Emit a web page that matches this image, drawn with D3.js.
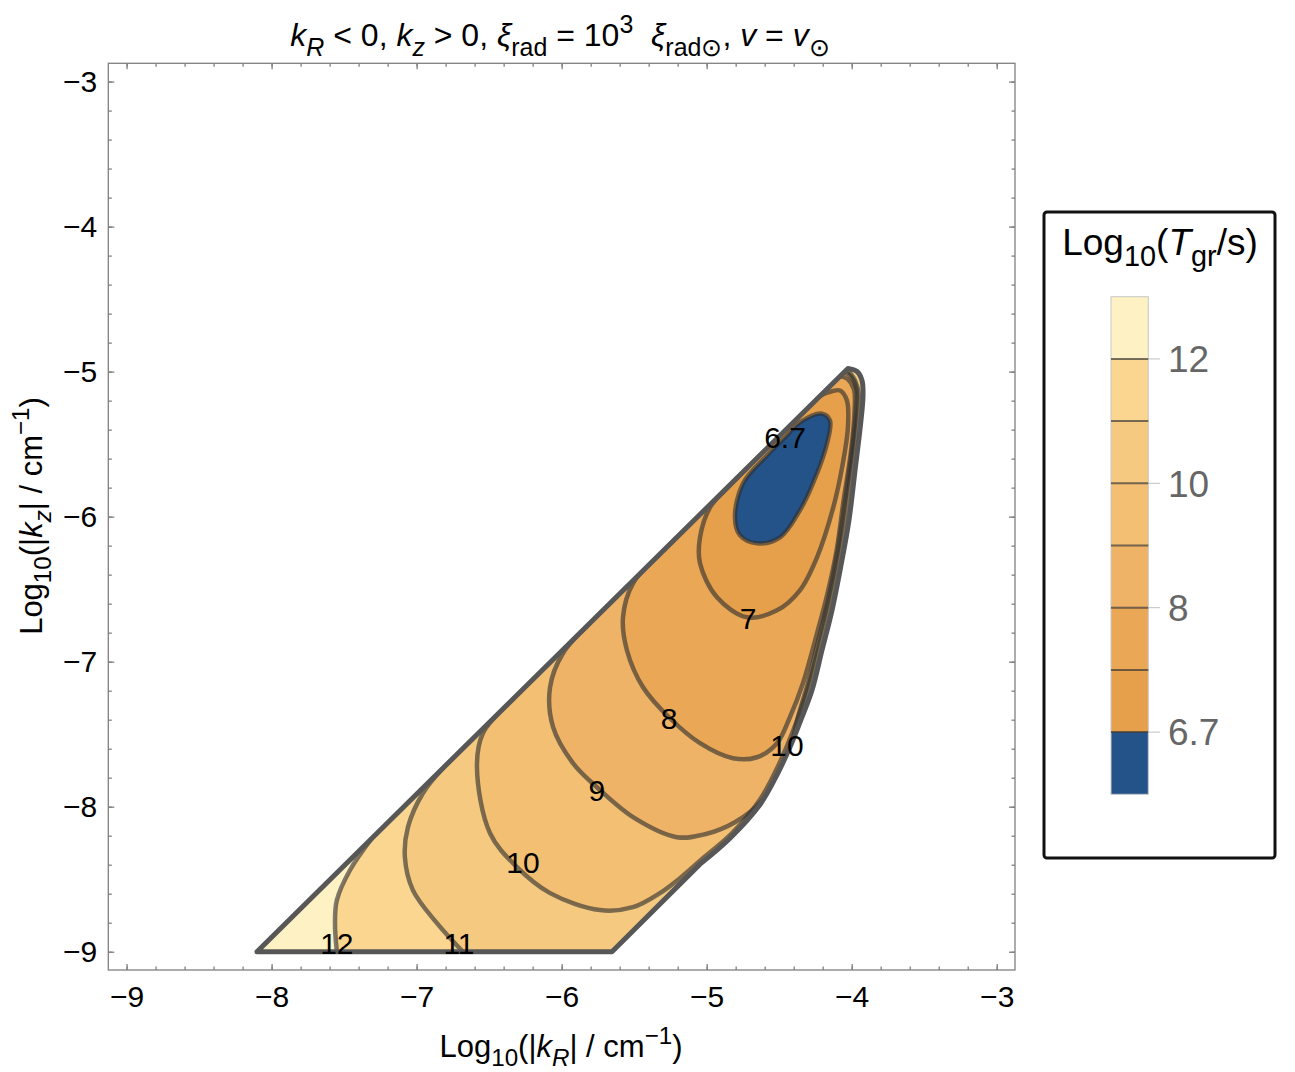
<!DOCTYPE html>
<meta charset="utf-8">
<style>
body { margin: 0; background: #fff; }
svg { font-family: "Liberation Sans", Arial, sans-serif; }
text, tspan { white-space: pre; }
</style>
<body>
<svg id="chart" width="1295" height="1072"></svg>
<script src="https://d3js.org/d3.v7.min.js"></script>
<script>
// contour levels of Log10(T_gr / s) and the fill of each band (lowest band first)
var levels = [6.7, 7, 8, 9, 10, 11, 12];
var bandColors = ["#24538a", "#e6a04b", "#eaa857", "#eeb366", "#f2bf73", "#f5ca80", "#fad691", "#fef1c4"];
var legendTicks = [6.7, 8, 10, 12];
var axisTicks = [-9, -8, -7, -6, -5, -4, -3];

// edge of the unstable region, [log|kR|, log|kz|]: bottom-left corner, tip, right edge, bottom-right corner
var boundary = [
  [-8.101, -9.000], [-4.026, -4.978], [-3.963, -4.999], [-3.929, -5.061], [-3.922, -5.164],
  [-3.936, -5.336], [-3.977, -5.681], [-4.019, -6.025], [-4.074, -6.336], [-4.136, -6.646],
  [-4.205, -6.921], [-4.274, -7.197], [-4.357, -7.418], [-4.426, -7.590], [-4.515, -7.780],
  [-4.632, -7.985], [-4.839, -8.217], [-5.046, -8.396], [-5.653, -9.000]
];

// iso-lines
var c67 = [
  [-4.150, -5.336], [-4.170, -5.495], [-4.267, -5.771], [-4.357, -5.957], [-4.494, -6.143],
  [-4.653, -6.184], [-4.770, -6.129], [-4.805, -6.005], [-4.750, -5.771], [-4.584, -5.578],
  [-4.460, -5.453], [-4.357, -5.350], [-4.205, -5.290]
];
var c7 = [
  [-4.722, -5.665], [-4.874, -5.819], [-4.977, -5.936], [-5.046, -6.143], [-5.046, -6.322],
  [-4.929, -6.556], [-4.722, -6.694], [-4.515, -6.646], [-4.357, -6.508], [-4.239, -6.280],
  [-4.127, -5.936], [-4.066, -5.660], [-4.026, -5.385], [-4.033, -5.199], [-4.081, -5.130],
  [-4.163, -5.143], [-4.219, -5.168]
];
var c8 = [
  [-5.322, -6.257], [-5.508, -6.460], [-5.577, -6.694], [-5.550, -6.921], [-5.439, -7.176],
  [-5.253, -7.390], [-5.046, -7.562], [-4.819, -7.666], [-4.653, -7.659], [-4.515, -7.562],
  [-4.426, -7.383], [-4.336, -7.149], [-4.239, -6.804], [-4.170, -6.542], [-4.104, -6.232],
  [-4.056, -5.888], [-4.004, -5.543], [-3.980, -5.267], [-3.985, -5.120], [-4.030, -5.050],
  [-4.080, -5.031]
];
var c9 = [
  [-5.805, -6.734], [-5.991, -6.942], [-6.080, -7.176], [-6.059, -7.452], [-5.922, -7.700],
  [-5.757, -7.866], [-5.508, -8.072], [-5.206, -8.210], [-5.011, -8.190], [-4.805, -8.107],
  [-4.614, -7.955], [-4.494, -7.769], [-4.426, -7.611], [-4.371, -7.383], [-4.302, -7.149],
  [-4.239, -6.887], [-4.163, -6.577], [-4.096, -6.232], [-4.045, -5.888], [-3.998, -5.543],
  [-3.970, -5.267], [-3.968, -5.116], [-4.005, -5.035], [-4.050, -5.002]
];
var c10 = [
  [-6.336, -7.258], [-6.543, -7.493], [-6.584, -7.728], [-6.494, -8.183], [-6.308, -8.417],
  [-6.080, -8.596], [-5.736, -8.713], [-5.508, -8.693], [-5.322, -8.596], [-5.184, -8.493],
  [-5.026, -8.355], [-4.826, -8.183], [-4.632, -7.950], [-4.522, -7.750], [-4.446, -7.580],
  [-4.371, -7.390], [-4.301, -7.183], [-4.232, -6.921], [-4.163, -6.632], [-4.094, -6.322],
  [-4.046, -6.025], [-4.005, -5.681], [-3.963, -5.336], [-3.950, -5.164], [-3.977, -5.061],
  [-4.032, -4.984]
];
var c11 = [
  [-6.819, -7.735], [-6.957, -7.907], [-7.060, -8.141], [-7.081, -8.348], [-7.026, -8.575],
  [-6.860, -8.803], [-6.681, -9.000]
];
var c12 = [
  [-7.308, -8.217], [-7.460, -8.438], [-7.550, -8.644], [-7.563, -8.803], [-7.550, -9.000]
];
var contours = [c67, c7, c8, c9, c10, c11, c12];

var labelText = ["6.7", "7", "8", "9", "10", "10", "11", "12"];
var labelAt = [
  [-4.460, -5.453], [-4.715, -6.701], [-5.260, -7.390], [-5.757, -7.886],
  [-6.267, -8.383], [-4.446, -7.576], [-6.708, -8.941], [-7.550, -8.941]
];

var svg = d3.select("#chart");
svg.append("rect").attr("width", 1295).attr("height", 1072).attr("fill", "#fff");

var x = d3.scaleLinear().domain([-9.126, -2.874]).range([108.3, 1015]);
var y = d3.scaleLinear().domain([-9.126, -2.874]).range([970, 63.3]);

var line = d3.line().x(function (d) { return x(d[0]); }).y(function (d) { return y(d[1]); });
var curve = d3.line().x(function (d) { return x(d[0]); }).y(function (d) { return y(d[1]); })
  .curve(d3.curveCatmullRom.alpha(0.5));
var loop = d3.line().x(function (d) { return x(d[0]); }).y(function (d) { return y(d[1]); })
  .curve(d3.curveCatmullRomClosed.alpha(0.5));

// straight lower edges, smooth right edge
var bl = boundary[0], br = boundary[boundary.length - 1];
var rightEdge = boundary.slice(1, boundary.length - 1);
function pt(p) { return x(p[0]) + "," + y(p[1]); }
var edgePath = "M" + pt(bl) + curve(rightEdge).replace(/^M/, "L") + "L" + pt(br) + "Z";

// sub/superscript helper
function rich(sel, size, parts) {
  var off = 0;
  parts.forEach(function (p) {
    var target = p.sub ? size * 0.3 : p.sup ? -size * 0.42 : 0;
    var ts = sel.append("tspan").attr("dy", target - off).text(p.t);
    if (p.sub || p.sup) ts.attr("font-size", size * 0.78);
    if (p.it) ts.attr("font-style", "italic");
    off = target;
  });
}

svg.append("clipPath").attr("id", "region").append("path").attr("d", edgePath);

var plot = svg.append("g").attr("clip-path", "url(#region)");
plot.append("path").attr("d", edgePath).attr("fill", bandColors[7]);

function regionPath(c, i) {
  if (i === 0) return loop(c);
  var d = curve(c);
  if (c[c.length - 1][1] <= -9) {
    d += "L" + pt(br) + curve(rightEdge.slice().reverse()).replace(/^M/, "L");
  }
  return d + "Z";
}
for (var i = contours.length - 1; i >= 0; i--) {
  plot.append("path").attr("d", regionPath(contours[i], i)).attr("fill", bandColors[i]);
}

plot.selectAll("path.iso").data(contours).join("path")
  .attr("class", "iso")
  .attr("d", function (c, i) { return i === 0 ? loop(c) : curve(c); })
  .attr("fill", "none")
  .attr("stroke", "#2e2e2e")
  .attr("stroke-opacity", 0.62)
  .attr("stroke-width", 4.5);

svg.append("path").attr("d", edgePath)
  .attr("fill", "none").attr("stroke", "#575757").attr("stroke-width", 5)
  .attr("stroke-linejoin", "round");

svg.selectAll("text.clab").data(labelText).join("text")
  .attr("class", "clab")
  .attr("x", function (d, i) { return x(labelAt[i][0]); })
  .attr("y", function (d, i) { return y(labelAt[i][1]); })
  .attr("dy", "0.36em")
  .attr("text-anchor", "middle")
  .attr("font-size", 30)
  .attr("fill", "#000")
  .text(function (d) { return d; });

// frame and ticks
svg.append("rect").attr("x", 108.3).attr("y", 63.3).attr("width", 906.7).attr("height", 906.7)
  .attr("fill", "none").attr("stroke", "#808080").attr("stroke-width", 1.3);

var minorTicks = d3.range(0, 31).map(function (k) { return -9 + k * 0.2; });

function styleAxis(g) {
  g.select(".domain").remove();
  g.selectAll(".tick line").attr("stroke", "#808080").attr("stroke-width", 1.3);
  g.selectAll(".tick text").attr("font-size", 30).attr("fill", "#000")
    .attr("font-family", "Liberation Sans, Arial, sans-serif");
}
var fmt = d3.format("d");
svg.append("g").attr("transform", "translate(0,970)")
  .call(d3.axisBottom(x).tickValues(axisTicks).tickSize(-6).tickPadding(16).tickFormat(fmt)).call(styleAxis);
svg.append("g").attr("transform", "translate(0,970)")
  .call(d3.axisBottom(x).tickValues(minorTicks).tickSize(-3.5).tickFormat("")).call(styleAxis);
svg.append("g").attr("transform", "translate(0,63.3)")
  .call(d3.axisTop(x).tickValues(axisTicks).tickSize(-6).tickFormat("")).call(styleAxis);
svg.append("g").attr("transform", "translate(0,63.3)")
  .call(d3.axisTop(x).tickValues(minorTicks).tickSize(-3.5).tickFormat("")).call(styleAxis);
svg.append("g").attr("transform", "translate(108.3,0)")
  .call(d3.axisLeft(y).tickValues(axisTicks).tickSize(-6).tickPadding(11).tickFormat(fmt)).call(styleAxis);
svg.append("g").attr("transform", "translate(108.3,0)")
  .call(d3.axisLeft(y).tickValues(minorTicks).tickSize(-3.5).tickFormat("")).call(styleAxis);
svg.append("g").attr("transform", "translate(1015,0)")
  .call(d3.axisRight(y).tickValues(axisTicks).tickSize(-6).tickFormat("")).call(styleAxis);
svg.append("g").attr("transform", "translate(1015,0)")
  .call(d3.axisRight(y).tickValues(minorTicks).tickSize(-3.5).tickFormat("")).call(styleAxis);

// titles
var title = svg.append("text").attr("x", 560).attr("y", 46).attr("text-anchor", "middle").attr("font-size", 32);
rich(title, 32, [
  { t: "k", it: 1 }, { t: "R", it: 1, sub: 1 }, { t: " < 0, " }, { t: "k", it: 1 }, { t: "z", it: 1, sub: 1 },
  { t: " > 0, " }, { t: "ξ", it: 1 }, { t: "rad", sub: 1 }, { t: " = 10" }, { t: "3", sup: 1 }, { t: "  " },
  { t: "ξ", it: 1 }, { t: "rad⊙", sub: 1 }, { t: ", " }, { t: "v", it: 1 }, { t: " = " }, { t: "v", it: 1 },
  { t: "⊙", sub: 1 }
]);

var xt = svg.append("text").attr("x", 561).attr("y", 1057).attr("text-anchor", "middle").attr("font-size", 31);
rich(xt, 31, [
  { t: "Log" }, { t: "10", sub: 1 }, { t: "(|" }, { t: "k", it: 1 }, { t: "R", it: 1, sub: 1 },
  { t: "| / cm" }, { t: "−1", sup: 1 }, { t: ")" }
]);

var yt = svg.append("text").attr("transform", "translate(42,516) rotate(-90)")
  .attr("text-anchor", "middle").attr("font-size", 31);
rich(yt, 31, [
  { t: "Log" }, { t: "10", sub: 1 }, { t: "(|" }, { t: "k", it: 1 }, { t: "z", it: 1, sub: 1 },
  { t: "| / cm" }, { t: "−1", sup: 1 }, { t: ")" }
]);

// legend
var lg = svg.append("g");
lg.append("rect").attr("x", 1044).attr("y", 212).attr("width", 231).attr("height", 646).attr("rx", 3)
  .attr("fill", "#fff").attr("stroke", "#111").attr("stroke-width", 3);
var lt = lg.append("text").attr("x", 1160).attr("y", 255).attr("text-anchor", "middle").attr("font-size", 37);
rich(lt, 37, [{ t: "Log" }, { t: "10", sub: 1 }, { t: "(" }, { t: "T", it: 1 }, { t: "gr", sub: 1 }, { t: "/s)" }]);

var bar = d3.scaleBand().domain(d3.range(bandColors.length)).range([794.3, 296.7]);
lg.selectAll("rect.band").data(bandColors).join("rect")
  .attr("class", "band")
  .attr("x", 1111).attr("width", 37.3)
  .attr("y", function (d, i) { return bar(i); })
  .attr("height", bar.bandwidth())
  .attr("fill", function (d) { return d; });
lg.append("rect").attr("x", 1111).attr("y", 296.7).attr("width", 37.3).attr("height", 497.6)
  .attr("fill", "none").attr("stroke", "#c8c8c8").attr("stroke-width", 1);
lg.selectAll("line.sep").data(levels).join("line")
  .attr("class", "sep")
  .attr("x1", 1111).attr("x2", 1148.3)
  .attr("y1", function (d, i) { return bar(i); })
  .attr("y2", function (d, i) { return bar(i); })
  .attr("stroke", "#2e2e2e").attr("stroke-opacity", 0.65).attr("stroke-width", 2);
lg.selectAll("line.ltick").data(legendTicks).join("line")
  .attr("class", "ltick")
  .attr("x1", 1148.3).attr("x2", 1160)
  .attr("y1", function (d) { return bar(levels.indexOf(d)); })
  .attr("y2", function (d) { return bar(levels.indexOf(d)); })
  .attr("stroke", "#c0c0c0").attr("stroke-width", 1);
lg.selectAll("text.ltl").data(legendTicks).join("text")
  .attr("class", "ltl")
  .attr("x", 1168)
  .attr("y", function (d) { return bar(levels.indexOf(d)); })
  .attr("dy", "0.36em")
  .attr("font-size", 37)
  .attr("fill", "#666")
  .text(function (d) { return d; });
</script>
</body>
